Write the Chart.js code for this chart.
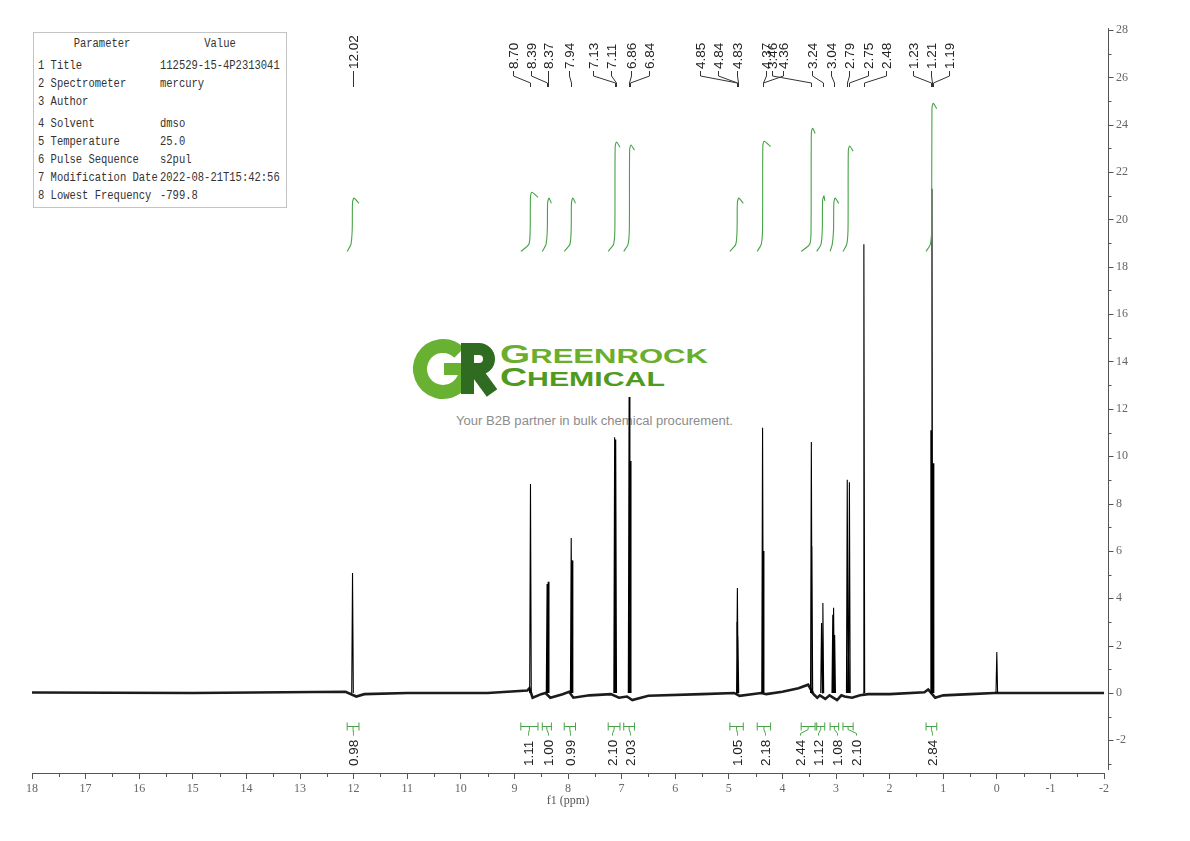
<!DOCTYPE html>
<html>
<head>
<meta charset="utf-8">
<title>1H NMR spectrum</title>
<script src="https://cdn.jsdelivr.net/npm/chart.js@4.4.1/dist/chart.umd.min.js"></script>
<style>
  html, body { margin:0; padding:0; background:#fff; }
  #wrap { position:relative; width:1190px; height:841px; overflow:hidden; background:#fff; }
  #bg { position:absolute; left:0; top:0; }
  #c { position:absolute; left:0; top:0; }
</style>
</head>
<body>
<div id="wrap">
<svg id="bg" width="1190" height="841" xmlns="http://www.w3.org/2000/svg">
  <g id="logo">
    <path d="M459.3 352.7 A23 23 0 1 0 466 369" fill="none" stroke="#69b133" stroke-width="14"/>
    <rect x="444" y="363" width="28" height="12" fill="#69b133"/>
    <rect x="461" y="343" width="13" height="51" fill="#2f6b21"/>
    <path d="M467 349 H479 A10 10 0 0 1 479 369 H467" fill="none" stroke="#2f6b21" stroke-width="12"/>
    <path d="M476 371 L492 393" stroke="#2f6b21" stroke-width="13" fill="none"/>
  </g>
  <text x="500" y="363" font-family="Liberation Sans, Arial, sans-serif" font-weight="bold" font-size="20" fill="#6aae2d" textLength="208" lengthAdjust="spacingAndGlyphs"><tspan font-size="25">G</tspan>REENROCK</text>
  <text x="500" y="386" font-family="Liberation Sans, Arial, sans-serif" font-weight="bold" font-size="21" fill="#4f9b22" textLength="165" lengthAdjust="spacingAndGlyphs"><tspan font-size="26">C</tspan>HEMICAL</text>
  <text x="456" y="425" font-family="Liberation Sans, Arial, sans-serif" font-size="12.5" fill="#8c8c8c" textLength="277" lengthAdjust="spacingAndGlyphs">Your B2B partner in bulk chemical procurement.</text>
  <g id="table"></g>
</svg>
<canvas id="c" width="1190" height="841"></canvas>
</div>
<script>
// ---------------- DATA ----------------
// Parameter table
const paramNames  = ['1 Title', '2 Spectrometer', '3 Author', '4 Solvent', '5 Temperature', '6 Pulse Sequence', '7 Modification Date', '8 Lowest Frequency'];
const paramValues = ['112529-15-4P2313041', 'mercury', '', 'dmso', '25.0', 's2pul', '2022-08-21T15:42:56', '-799.8'];

// Resolved spectral lines (ppm, intensity)
const peakPpm    = [12.02, 8.70, 8.39, 8.37, 7.94, 7.925, 7.13, 7.11, 6.86, 6.84, 4.85, 4.84, 4.83, 4.37, 4.36, 3.46, 3.45, 3.27, 3.245, 3.06, 3.045, 3.025, 2.79, 2.77, 2.75, 2.48, 1.23, 1.21, 1.19, 0.00];
const peakHeight = [5.07, 8.83, 4.60, 4.70, 6.55, 5.60, 10.80, 10.70, 12.50, 9.80, 3.00, 4.43, 2.40, 11.20, 6.00, 10.60, 6.20, 2.95, 3.80, 3.30, 3.60, 2.45, 9.00, 3.20, 8.90, 18.95, 11.10, 21.30, 9.70, 1.73];

// Baseline (ppm, intensity)
const basePpm = [18, 15, 12.15, 11.95, 11.8, 11, 9.5, 8.76, 8.72, 8.66, 8.5, 8.42, 8.33, 8.1, 7.98, 7.9, 7.6, 7.2, 7.05, 6.9, 6.8, 6.5, 5.5, 4.9, 4.8, 4.5, 4.4, 4.3, 4.0, 3.7, 3.52, 3.42, 3.35, 3.3, 3.2, 3.12, 2.98, 2.9, 2.84, 2.7, 2.55, 2.4, 2.0, 1.35, 1.28, 1.15, 1.0, 0.5, 0.05, -0.05, -1, -2];
const baseVal = [0.02, 0.0, 0.05, -0.15, -0.05, 0.0, 0.0, 0.1, 0.2, -0.2, -0.05, 0.0, -0.2, -0.05, 0.05, -0.2, -0.1, -0.05, -0.2, -0.15, -0.3, -0.12, -0.05, 0.0, -0.12, -0.03, 0.0, -0.05, 0.05, 0.2, 0.35, -0.05, -0.2, -0.1, -0.25, -0.1, -0.3, -0.1, -0.15, -0.2, -0.1, -0.05, -0.05, 0.03, 0.15, -0.2, -0.1, -0.05, 0.0, 0.0, 0.0, 0.0];

// Peak picking labels
const pickLabels = ['12.02', '8.70', '8.39', '8.37', '7.94', '7.13', '7.11', '6.86', '6.84', '4.85', '4.84', '4.83', '4.37', '3.46', '4.36', '3.24', '3.04', '2.79', '2.75', '2.48', '1.23', '1.21', '1.19'];

// Integrals
const intValue = ['0.98', '1.11', '1.00', '0.99', '2.10', '2.03', '1.05', '2.18', '2.44', '1.12', '1.08', '2.10', '2.84'];
const intFrom  = [12.12, 8.88, 8.48, 8.07, 7.25, 6.96, 4.98, 4.47, 3.65, 3.36, 3.11, 2.87, 1.32];
const intTo    = [11.90, 8.56, 8.31, 7.86, 7.03, 6.76, 4.73, 4.22, 3.39, 3.21, 2.95, 2.68, 1.12];
const intRise  = [12.02, 8.70, 8.38, 7.935, 7.12, 6.85, 4.84, 4.365, 3.46, 3.25, 3.04, 2.77, 1.21];
const intTop   = [20.90, 21.15, 20.90, 20.90, 23.27, 23.14, 20.90, 23.30, 23.85, 21.00, 20.90, 23.10, 24.90];
const intBase  = 18.65;

// Axis ticks
const xMajorTicks = [-2, -1, 0, 1, 2, 3, 4, 5, 6, 7, 8, 9, 10, 11, 12, 13, 14, 15, 16, 17, 18];
const yMajorTicks = [-2, 0, 2, 4, 6, 8, 10, 12, 14, 16, 18, 20, 22, 24, 26, 28];

// ---------------- LAYOUT (not data) ----------------
const HW = 0.015; // drawn half width of a line, ppm
const pickAnchor = [12.02, 9.026, 8.690, 8.373, 7.981, 7.534, 7.198, 6.825, 6.489, 5.537, 5.201, 4.847, 4.306, 4.194, 3.989, 3.448, 3.093, 2.757, 2.403, 2.067, 1.563, 1.228, 0.892];
const intAnchor  = [12.01, 8.746, 8.373, 7.963, 7.179, 6.843, 4.847, 4.325, 3.672, 3.336, 2.981, 2.627, 1.209];
const Y_AXIS_GAP = 4; // right axis sits a few px right of the plot edge

// ---------------- PARAMETER TABLE (SVG text) ----------------
(function buildTable() {
  const NS = 'http://www.w3.org/2000/svg';
  const g = document.getElementById('table');
  const rect = document.createElementNS(NS, 'rect');
  rect.setAttribute('x', 33.5); rect.setAttribute('y', 32.5);
  rect.setAttribute('width', 253); rect.setAttribute('height', 175);
  rect.setAttribute('fill', '#fff'); rect.setAttribute('stroke', '#c4c4c4');
  g.appendChild(rect);
  const CW = 6.3;
  function txt(s, x, y, anchor) {
    if (!s) return;
    const t = document.createElementNS(NS, 'text');
    t.setAttribute('x', x); t.setAttribute('y', y);
    t.setAttribute('font-family', 'Liberation Mono, Courier New, monospace');
    t.setAttribute('font-size', '12.5');
    t.setAttribute('fill', '#333');
    t.setAttribute('textLength', (s.length * CW).toFixed(1));
    t.setAttribute('lengthAdjust', 'spacingAndGlyphs');
    if (anchor) t.setAttribute('text-anchor', anchor);
    t.textContent = s;
    g.appendChild(t);
  }
  txt('Parameter', 102, 47, 'middle');
  txt('Value', 220, 47, 'middle');
  const rowY = [69, 87, 105, 127, 145, 163, 181, 199];
  paramNames.forEach((n, i) => { txt(n, 38, rowY[i]); txt(paramValues[i], 160, rowY[i]); });
})();

// ---------------- DATASETS ----------------
const basePts = basePpm.map((p, i) => ({ x: p, y: baseVal[i] }));
const peakPts = [];
peakPpm.forEach((p, i) => {
  peakPts.push({ x: p + HW, y: 0 }, { x: p, y: peakHeight[i] }, { x: p - HW, y: 0 }, { x: p - HW, y: null });
});
const intPts = [];
intFrom.forEach((s, i) => {
  const r = intRise[i], e = intTo[i], T = intTop[i], B = intBase;
  intPts.push(
    { x: s, y: B },
    { x: r + 0.03, y: B + 0.3 },
    { x: r + 0.006, y: B + 0.9 },
    { x: r, y: T - 0.2 },
    { x: r - 0.025, y: T },
    { x: e, y: T - 0.22 },
    { x: e, y: null }
  );
});

// ---------------- OVERLAY PLUGIN ----------------
const GREEN = '#47a247';
const overlay = {
  id: 'overlay',
  afterDraw(chart) {
    const { ctx, chartArea } = chart;
    const xs = chart.scales.x, ys = chart.scales.y;
    ctx.save();
    // x minor ticks
    ctx.strokeStyle = '#555'; ctx.lineWidth = 1;
    ctx.beginPath();
    for (let k = 0; k < xMajorTicks.length - 1; k++) {
      const v = (xMajorTicks[k] + xMajorTicks[k + 1]) / 2;
      const px = Math.round(xs.getPixelForValue(v)) + 0.5;
      ctx.moveTo(px, chartArea.bottom); ctx.lineTo(px, chartArea.bottom + 4);
    }
    // right axis line, major and minor ticks
    const ax = Math.round(chartArea.right + Y_AXIS_GAP) + 0.5;
    ctx.moveTo(ax, chartArea.top - 2); ctx.lineTo(ax, chartArea.bottom - 3);
    yMajorTicks.forEach(v => {
      const py = Math.round(ys.getPixelForValue(v)) + 0.5;
      ctx.moveTo(ax, py); ctx.lineTo(ax + 5, py);
    });
    for (let k = 0; k < yMajorTicks.length - 1; k++) {
      const v = (yMajorTicks[k] + yMajorTicks[k + 1]) / 2;
      const py = Math.round(ys.getPixelForValue(v)) + 0.5;
      ctx.moveTo(ax, py); ctx.lineTo(ax + 3, py);
    }
    { const py = Math.round(ys.getPixelForValue(-3)) + 0.5; ctx.moveTo(ax, py); ctx.lineTo(ax + 3, py); }
    ctx.stroke();

    // peak labels
    ctx.font = '13.5px "Liberation Sans", Arial, sans-serif';
    ctx.fillStyle = '#222'; ctx.strokeStyle = '#333';
    pickLabels.forEach((lab, i) => {
      const lx = Math.round(xs.getPixelForValue(pickAnchor[i])) + 0.5;
      const px = Math.round(xs.getPixelForValue(parseFloat(lab))) + 0.5;
      ctx.beginPath();
      ctx.moveTo(lx, 71); ctx.lineTo(lx, 76); ctx.lineTo(px, 83); ctx.lineTo(px, 87);
      ctx.stroke();
      ctx.save();
      ctx.translate(lx + 0.5, 69);
      ctx.rotate(-Math.PI / 2);
      ctx.textAlign = 'left'; ctx.textBaseline = 'middle';
      ctx.fillText(lab, 0, 0);
      ctx.restore();
    });

    // integral brackets + labels
    const yb = 726.5;
    intValue.forEach((lab, i) => {
      const x1 = xs.getPixelForValue(intFrom[i]);
      const x2 = xs.getPixelForValue(intTo[i]);
      const cx = (x1 + x2) / 2;
      const lx = Math.round(xs.getPixelForValue(intAnchor[i])) + 0.5;
      ctx.strokeStyle = GREEN;
      ctx.beginPath();
      ctx.moveTo(x1, yb); ctx.lineTo(x2, yb);
      ctx.moveTo(x1, yb - 4); ctx.lineTo(x1, yb + 4);
      ctx.moveTo(x2, yb - 4); ctx.lineTo(x2, yb + 4);
      ctx.moveTo(cx, yb); ctx.lineTo(cx, yb + 3); ctx.lineTo(lx, yb + 7); ctx.lineTo(lx, yb + 9);
      ctx.stroke();
      ctx.save();
      ctx.translate(lx + 0.5, 766);
      ctx.rotate(-Math.PI / 2);
      ctx.textAlign = 'left'; ctx.textBaseline = 'middle';
      ctx.fillStyle = '#222';
      ctx.fillText(lab, 0, 0);
      ctx.restore();
    });
    ctx.restore();
  }
};

// ---------------- CHART ----------------
Chart.defaults.font.family = '"Liberation Serif", "Times New Roman", serif';
const serifTick = { family: '"Liberation Serif", "Times New Roman", serif', size: 12 };

new Chart(document.getElementById('c'), {
  type: 'line',
  data: {
    datasets: [
      { label: 'baseline', data: basePts, borderColor: '#1c1c1c', borderWidth: 2.6, pointRadius: 0, tension: 0, order: 3 },
      { label: 'spectrum', data: peakPts, borderColor: '#000', borderWidth: 1.1, pointRadius: 0, tension: 0, spanGaps: false, order: 2 },
      { label: 'integral', data: intPts, borderColor: GREEN, borderWidth: 1.1, pointRadius: 0, tension: 0.25, spanGaps: false, order: 1 }
    ]
  },
  options: {
    responsive: false,
    animation: false,
    devicePixelRatio: 1,
    layout: { padding: { left: 32, top: 30, right: 0, bottom: 0 } },
    plugins: { legend: { display: false }, tooltip: { enabled: false } },
    scales: {
      x: {
        type: 'linear', position: 'bottom', min: -2, max: 18, reverse: true,
        afterBuildTicks: ax => { ax.ticks = xMajorTicks.map(v => ({ value: v })); },
        afterFit: ax => { ax.height = 68; },
        grid: { drawOnChartArea: false, tickLength: 6, color: '#555' },
        border: { color: '#555', width: 1 },
        ticks: { color: '#666', font: serifTick, padding: 3, autoSkip: false, maxRotation: 0, callback: v => String(v) },
        title: { display: true, text: 'f1 (ppm)', color: '#555', font: { family: '"Liberation Serif", serif', size: 12 }, padding: { top: 0, bottom: 33 } }
      },
      y: {
        type: 'linear', position: 'right', min: -3.38, max: 28,
        afterBuildTicks: ax => { ax.ticks = yMajorTicks.map(v => ({ value: v })); },
        afterFit: ax => { ax.width = 86; },
        grid: { drawOnChartArea: false, drawTicks: true, tickLength: 10, tickColor: 'rgba(0,0,0,0)' },
        border: { display: false },
        ticks: { color: '#666', font: serifTick, padding: 2, autoSkip: false, callback: v => String(v) }
      }
    }
  },
  plugins: [overlay]
});
</script>
</body>
</html>
